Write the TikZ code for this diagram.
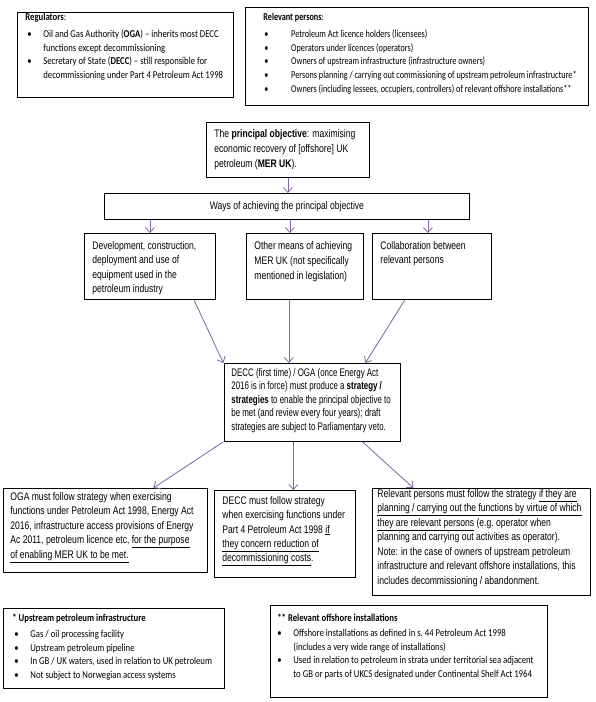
\documentclass[tikz,border=0pt]{standalone}
\usepackage{fontspec}
\usepackage{xcolor}
\usetikzlibrary{arrows.meta, positioning}
\setmainfont{Liberation Sans}[FakeStretch=0.78]
\newfontfamily\stratfont{Liberation Sans}[FakeStretch=0.72]
\newfontfamily\calfont{Carlito}[FakeStretch=0.83]
\newfontfamily\rpfont{Carlito}[FakeStretch=0.78]
\definecolor{arrowpurple}{RGB}{128,100,162}
\newcommand{\bul}[1][16pt]{\hspace*{2pt}\makebox[#1][l]{\textbullet}}
\newcommand{\cont}[1][16pt]{\hspace*{2pt}\hspace*{#1}}
\hyphenpenalty=10000
\exhyphenpenalty=10000

\begin{document}
\begin{tikzpicture}[
  x=1pt, y=-1pt,
  box/.style={draw, line width=0.8pt, anchor=north west, align=flush left, inner xsep=8pt, inner ysep=3pt, font=\fontsize{11}{14.3}\selectfont},
  lbox/.style={box, font=\calfont\fontsize{10.5}{13.8}\selectfont},
  arr/.style={->, draw=arrowpurple, line width=0.8pt},
  >={Straight Barb[length=5pt, width=9pt]}
]
\path[use as bounding box, fill=white] (0,0) rectangle (596,702);

% lists at the top
\node[lbox, text width=200pt, text height=5pt, text depth=74pt] (reg) at (17,12)
  {\textbf{Regulators}:\\[3pt]
   \bul Oil and Gas Authority (\textbf{OGA}) \textendash{} inherits most DECC\\
   \cont functions except decommissioning\\
   \bul Secretary of State (\textbf{DECC}) \textendash{} still responsible for\\
   \cont decommissioning under Part 4 Petroleum Act 1998};
\node[lbox, inner xsep=5pt, text width=333pt, text height=10pt, text depth=82pt, font=\rpfont\fontsize{10.5}{13.8}\selectfont] (rp) at (245,7)
  {\hspace*{13pt}\textbf{Relevant persons}:\\[3pt]
   \hspace*{12pt}\bul[25pt] Petroleum Act licence holders (licensees)\\
   \hspace*{12pt}\bul[25pt] Operators under licences (operators)\\
   \hspace*{12pt}\bul[25pt] Owners of upstream infrastructure (infrastructure owners)\\
   \hspace*{12pt}\bul[25pt] Persons planning / carrying out commissioning of upstream petroleum infrastructure*\\
   \hspace*{12pt}\bul[25pt] Owners (including lessees, occupiers, controllers) of relevant offshore installations**};

% objective and ways
\node[box, text width=147pt, text height=12pt, text depth=37pt, font=\fontsize{11}{15}\selectfont] (obj) at (206,122)
  {The \textbf{principal objective}: maximising\\
   economic recovery of [offshore] UK\\
   petroleum (\textbf{MER UK}).};
\node[box, text width=349pt, minimum height=26pt, align=flush center] (ways) at (104,193)
  {Ways of achieving the principal objective};
\node[box, text width=115pt, text height=13pt, text depth=47pt] (dev) at (84,233)
  {Development, construction,\\
   deployment and use of\\
   equipment used in the\\
   petroleum industry};
\node[box, text width=101pt, text height=13pt, text depth=47pt, font=\fontsize{11}{15}\selectfont] (other) at (246,233)
  {Other means of achieving\\
   MER UK (not specifically\\
   mentioned in legislation)};
\node[box, text width=103pt, text height=13pt, text depth=47pt] (collab) at (372,233)
  {Collaboration between\\
   relevant persons};

% the strategy
\node[box, inner xsep=7pt, text width=162pt, text height=10pt, text depth=62pt, font=\stratfont\fontsize{11}{13.4}\selectfont] (strat) at (224,363)
  {DECC (first time) / OGA (once Energy Act\\
   2016 is in force) must produce a \textbf{strategy /}\\
   \textbf{strategies} to enable the principal objective to\\
   be met (and review every four years); draft\\
   strategies are subject to Parliamentary veto.};

% who must follow it
\node[box, inner xsep=7pt, text width=190pt, text height=9pt, text depth=69pt, font=\fontsize{11}{14.5}\selectfont] (oga) at (3,488)
  {OGA must follow strategy when exercising\\
   functions under Petroleum Act 1998, Energy Act\\
   2016, infrastructure access provisions of Energy\\
   Ac 2011, petroleum licence etc, \underline{for the purpose}\\
   \underline{of enabling MER UK to be met.}};
\node[box, text width=125pt, text height=11pt, text depth=70pt] (decc) at (214,490)
  {DECC must follow strategy\\
   when exercising functions under\\
   Part 4 Petroleum Act 1998 \underline{if}\\
   \underline{they concern reduction of}\\
   \underline{decommissioning costs}.};
\node[box, inner xsep=5pt, text width=208pt, text height=6pt, text depth=95pt, font=\fontsize{11}{14.5}\selectfont] (relp) at (372,488)
  {Relevant persons must follow the strategy \underline{if they are}\\
   \underline{planning / carrying out the functions by virtue of which}\\
   \underline{they are relevant persons} (e.g.\ operator when\\
   planning and carrying out activities as operator).\\
   Note: in the case of owners of upstream petroleum\\
   infrastructure and relevant offshore installations, this\\
   includes decommissioning / abandonment.};

% footnotes
\node[lbox, inner xsep=9pt, text width=203pt, text height=10pt, text depth=64pt] (ups) at (3,608)
  {\textbf{* Upstream petroleum infrastructure}\\[2pt]
   \bul Gas / oil processing facility\\
   \bul Upstream petroleum pipeline\\
   \bul In GB / UK waters, used in relation to UK petroleum\\
   \bul Not subject to Norwegian access systems};
\node[lbox, inner xsep=4pt, text width=269pt, text height=13pt, text depth=73pt, font=\calfont\fontsize{10.5}{13.5}\selectfont] (off) at (270,605)
  {\hspace*{3pt}\textbf{** Relevant offshore installations}\\[2pt]
   \hspace*{1pt}\bul Offshore installations as defined in s.\ 44 Petroleum Act 1998\\
   \hspace*{1pt}\cont (includes a very wide range of installations)\\
   \hspace*{1pt}\bul Used in relation to petroleum in strata under territorial sea adjacent\\
   \hspace*{1pt}\cont to GB or parts of UKCS designated under Continental Shelf Act 1964};

\draw[arr] (obj.south) -- (obj.south |- ways.north);
\draw[arr] (ways.south -| dev.north) -- (dev.north);
\draw[arr] ([xshift=-15pt]other.north |- ways.south) -- ([xshift=-15pt]other.north);
\draw[arr] ([xshift=-4pt]collab.north |- ways.south) -- ([xshift=-4pt]collab.north);
\draw[arr] ([xshift=44pt]dev.south) -- ([xshift=-89pt]strat.north);
\draw[arr] ([xshift=-16pt]other.south) -- ([xshift=-16pt]other.south |- strat.north);
\draw[arr] ([xshift=-27pt]collab.south) -- ([xshift=53pt]strat.north);
\draw[arr] ([xshift=-89pt]strat.south) -- ([xshift=48pt]oga.north);
\draw[arr] ([xshift=-19pt]strat.south) -- ([xshift=-19pt]strat.south |- decc.north);
\draw[arr] ([xshift=50pt]strat.south) -- ([xshift=-68pt]relp.north);
\end{tikzpicture}
\end{document}
